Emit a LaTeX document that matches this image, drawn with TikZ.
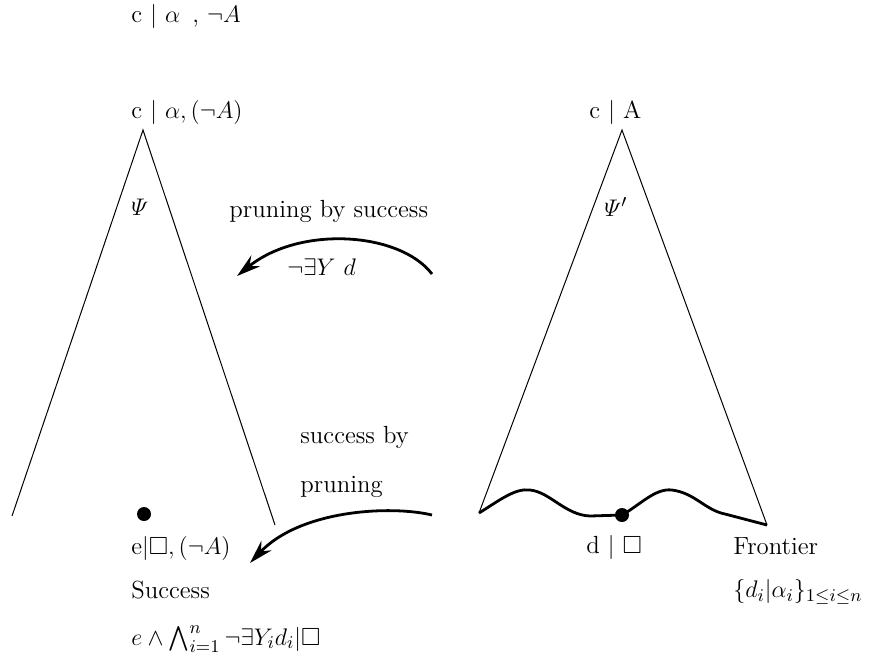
\documentclass[tikz,border=0pt]{standalone}
\usepackage{amsmath,amssymb}
\usetikzlibrary{arrows.meta}
\begin{document}
\begin{tikzpicture}[x=0.5pt,y=-0.5pt,
  lbl/.style={anchor=west,inner sep=0pt,font=\fontsize{12.4}{14}\selectfont},
  leg/.style={line width=0.5pt},
  curvearrow/.style={line width=1.4pt,-{Stealth[length=12pt,width=7pt,inset=4pt]}},
  wave/.style={line width=1.4pt},
  dot/.style={circle,fill=black,inner sep=0pt,minimum size=7pt}]
\useasboundingbox (0,0) rectangle (882,660);
% texts
\node[lbl] (top) at (131,16) {c $\mid$ $\alpha$\, , $\neg A$};
\node[lbl] (lroot) at (131,112) {c $\mid$ $\alpha,(\neg A)$};
\node[lbl] (rroot) at (589,112) {c $\mid$ A};
\node[lbl] (psi) at (131,207) {$\varPsi$};
\node[lbl] (psip) at (604,207) {$\varPsi'$};
\node[lbl] (pbs) at (229,211) {pruning by success};
\node[lbl] (ney) at (287,267) {$\neg\exists Y\ d$};
\node[lbl] (sb1) at (300,437) {success by};
\node[lbl] (sb2) at (300,487) {pruning};
\node[lbl] (eb) at (131,548) {e$|\Box,(\neg A)$};
\node[lbl] (succ) at (131,590) {Success};
\node[lbl] (form) at (131,639) {$e\wedge\bigwedge_{i=1}^{n}\neg\exists Y_i d_i|\Box$};
\node[lbl] (db) at (586,547) {d $\mid$ $\Box$};
\node[lbl] (front) at (733,546) {Frontier};
\node[lbl] (fset) at (733,592) {$\{d_i|\alpha_i\}_{1\leq i\leq n}$};
% left tree
\coordinate (la) at (143,130);
\coordinate (ll) at (12,516);
\coordinate (lr) at (275,525);
\draw[leg] (ll) -- (la) -- (lr);
\node[dot] (edot) at (144,514) {};
% right tree
\coordinate (ra) at (622,130);
\coordinate (rl) at (479,513);
\coordinate (rr) at (767,525);
\draw[leg] (rl) -- (ra) -- (rr);
\node[dot] (ddot) at (622,515) {};
\draw[wave] (rl) .. controls (500,500) and (515,488) .. (530,490)
  .. controls (550,492) and (565,515) .. (590,516)
  -- (ddot.center)
  .. controls (640,505) and (655,488) .. (672,490)
  .. controls (695,493) and (705,510) .. (725,514)
  -- (rr);
% arrows
\coordinate (a1s) at (432,274);
\coordinate (a1e) at (237,276);
\draw[curvearrow] (a1s) .. controls (400,232) and (300,225) .. (a1e);
\coordinate (a2s) at (432,515);
\coordinate (a2e) at (250,563);
\draw[curvearrow] (a2s) .. controls (390,505) and (300,510) .. (a2e);
\end{tikzpicture}
\end{document}
